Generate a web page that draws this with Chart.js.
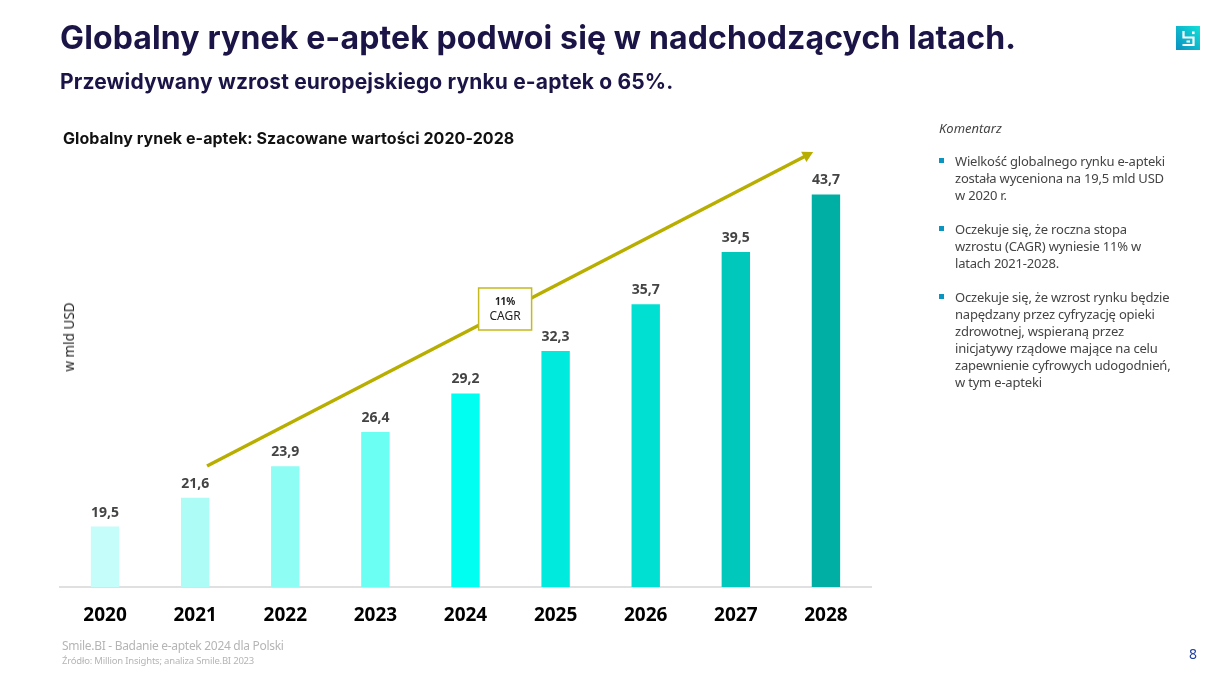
<!DOCTYPE html>
<html lang="pl">
<head>
<meta charset="utf-8">
<title>Globalny rynek e-aptek</title>
<script src="https://cdn.jsdelivr.net/npm/chart.js@4/dist/chart.umd.min.js"></script>
<style>
  html, body { margin: 0; padding: 0; background: #fff; }
  body { width: 1223px; height: 682px; position: relative; overflow: hidden; font-family: "Noto Sans", sans-serif; }
  #chartBox { position: absolute; left: 0; top: 0; width: 1223px; height: 682px; }
  .txt { position: absolute; white-space: nowrap; }
  #title { left: 60px; top: 18px; font: 700 32px Inter, sans-serif; letter-spacing: 0.13px; color: #1b1446; }
  #subtitle { left: 60px; top: 69px; font: 700 21px Inter, sans-serif; letter-spacing: 0.15px; color: #1b1446; }
  #chartTitle { left: 63px; top: 128px; font: 700 16px Inter, sans-serif; letter-spacing: 0.06px; color: #111; }
  #yTitle { left: 69px; top: 337px; font-size: 13.5px; color: #222; transform: translate(-50%, -50%) rotate(-90deg); }
  #src1 { left: 62px; top: 637px; font-size: 12px; letter-spacing: -0.3px; color: #b5b5b5; }
  #src2 { left: 62px; top: 654px; font-size: 9.5px; letter-spacing: -0.2px; color: #b5b5b5; }
  #page { left: 1189px; top: 644px; font-size: 14px; color: #1f3fa0; }
  #komentarz { left: 939px; top: 119px; font-size: 13px; font-style: italic; color: #444; }
  #notes { position: absolute; left: 939px; top: 153px; width: 240px; margin: 0; padding: 0; list-style: none; font-size: 13px; letter-spacing: -0.2px; line-height: 17px; color: #444; }
  #notes li { position: relative; padding-left: 16px; margin-bottom: 17px; white-space: nowrap; }
  #notes li::before { content: ""; position: absolute; left: 0; top: 5px; width: 5px; height: 5px; background: #0a94c0; }
  #logo { position: absolute; left: 1176px; top: 26px; width: 24px; height: 24px; }
</style>
</head>
<body>
<div id="chartBox"><canvas id="myChart"></canvas></div>
<div class="txt" id="title">Globalny rynek e-aptek podwoi się w nadchodzących latach.</div>
<div class="txt" id="subtitle">Przewidywany wzrost europejskiego rynku e-aptek o 65%.</div>
<div class="txt" id="chartTitle">Globalny rynek e-aptek: Szacowane wartości 2020-2028</div>
<div class="txt" id="yTitle">w mld USD</div>
<div class="txt" id="komentarz">Komentarz</div>
<ul id="notes">
  <li>Wielkość globalnego rynku e-apteki<br>została wyceniona na 19,5 mld USD<br>w 2020 r.</li>
  <li>Oczekuje się, że roczna stopa<br>wzrostu (CAGR) wyniesie 11% w<br>latach 2021-2028.</li>
  <li>Oczekuje się, że wzrost rynku będzie<br>napędzany przez cyfryzację opieki<br>zdrowotnej, wspieraną przez<br>inicjatywy rządowe mające na celu<br>zapewnienie cyfrowych udogodnień,<br>w tym e-apteki</li>
</ul>
<div class="txt" id="src1">Smile.BI - Badanie e-aptek 2024 dla Polski</div>
<div class="txt" id="src2">Źródło: Million Insights; analiza Smile.BI 2023</div>
<div class="txt" id="page">8</div>
<svg id="logo" viewBox="0 0 24 24">
  <defs><linearGradient id="lg" x1="0" y1="1" x2="1" y2="0"><stop offset="0" stop-color="#0a8fc0"/><stop offset="1" stop-color="#12e0d8"/></linearGradient></defs>
  <rect width="24" height="24" fill="url(#lg)"/>
  <path d="M7.5 5v6.5h10v7.5H6.5M10.5 15.5h3.5" fill="none" stroke="#fff" stroke-width="2.2"/>
  <rect x="16" y="5.5" width="2.6" height="2.6" fill="#fff"/>
</svg>
<script>
let years = ["2020", "2021", "2022", "2023", "2024", "2025", "2026", "2027", "2028"];
let values = [19.5, 21.6, 23.9, 26.4, 29.2, 32.3, 35.7, 39.5, 43.7];
let barColors = ["#c4fdf9", "#aefcf6", "#8efdf4", "#6bfff3", "#00fff0", "#00ebde", "#00e0d2", "#00c8ba", "#00afa3"];
let cagrFrom = [1.132, 23.92];
let cagrTo = [7.858, 46.79];
let cagrLabel = ["11%", "CAGR"];

let barLabels = {
  id: "barLabels",
  afterDatasetsDraw(chart) {
    let ctx = chart.ctx;
    ctx.save();
    ctx.font = "700 14px 'Noto Sans'";
    ctx.fillStyle = "#444";
    ctx.textAlign = "center";
    ctx.textBaseline = "bottom";
    chart.getDatasetMeta(0).data.forEach((bar, i) => {
      ctx.fillText(values[i].toFixed(1).replace(".", ","), bar.x, bar.y - 7);
    });
    ctx.restore();
  }
};

// strzalka CAGR liczona ze skal wykresu
let cagrArrow = {
  id: "cagrArrow",
  afterDatasetsDraw(chart) {
    let ctx = chart.ctx;
    let x1 = chart.scales.x.getPixelForValue(cagrFrom[0]);
    let y1 = chart.scales.y.getPixelForValue(cagrFrom[1]);
    let x2 = chart.scales.x.getPixelForValue(cagrTo[0]);
    let y2 = chart.scales.y.getPixelForValue(cagrTo[1]);
    let a = Math.atan2(y2 - y1, x2 - x1);
    ctx.save();
    ctx.strokeStyle = "#b8ae00";
    ctx.fillStyle = "#b8ae00";
    ctx.lineWidth = 3.5;
    ctx.beginPath();
    ctx.moveTo(x1, y1);
    ctx.lineTo(x2 - 8 * Math.cos(a), y2 - 8 * Math.sin(a));
    ctx.stroke();
    ctx.beginPath();
    ctx.moveTo(x2, y2);
    ctx.lineTo(x2 - 12 * Math.cos(a - 0.5), y2 - 12 * Math.sin(a - 0.5));
    ctx.lineTo(x2 - 12 * Math.cos(a + 0.5), y2 - 12 * Math.sin(a + 0.5));
    ctx.closePath();
    ctx.fill();
    // ramka z opisem na srodku strzalki
    let mx = (x1 + x2) / 2 - 5;
    let my = (y1 + y2) / 2;
    ctx.fillStyle = "#fff";
    ctx.strokeStyle = "#c4b91e";
    ctx.lineWidth = 1.5;
    ctx.fillRect(mx - 26.5, my - 21, 53, 42);
    ctx.strokeRect(mx - 26.5, my - 21, 53, 42);
    ctx.textAlign = "center";
    ctx.textBaseline = "middle";
    ctx.fillStyle = "#222";
    ctx.font = "700 10px 'Noto Sans'";
    ctx.fillText(cagrLabel[0], mx, my - 7);
    ctx.font = "12px 'Noto Sans'";
    ctx.fillText(cagrLabel[1], mx, my + 8);
    ctx.restore();
  }
};

new Chart("myChart", {
  type: "bar",
  data: {
    labels: years,
    datasets: [{
      data: values,
      backgroundColor: barColors,
      categoryPercentage: 1,
      barPercentage: 0.315
    }]
  },
  options: {
    responsive: true,
    maintainAspectRatio: false,
    animation: false,
    layout: { padding: { left: 60, right: 352, top: 108, bottom: 0 } },
    plugins: { legend: { display: false }, tooltip: { enabled: false } },
    scales: {
      x: {
        grid: { display: false },
        border: { color: "#e0e0e0", width: 2 },
        ticks: { color: "#000", font: { family: "'Noto Sans'", size: 19, weight: "700" }, padding: 9, maxRotation: 0 },
        afterFit(scale) { scale.height = 95; }
      },
      y: { display: false, min: 15.1, max: 50 }
    }
  },
  plugins: [barLabels, cagrArrow]
});
</script>
</body>
</html>
